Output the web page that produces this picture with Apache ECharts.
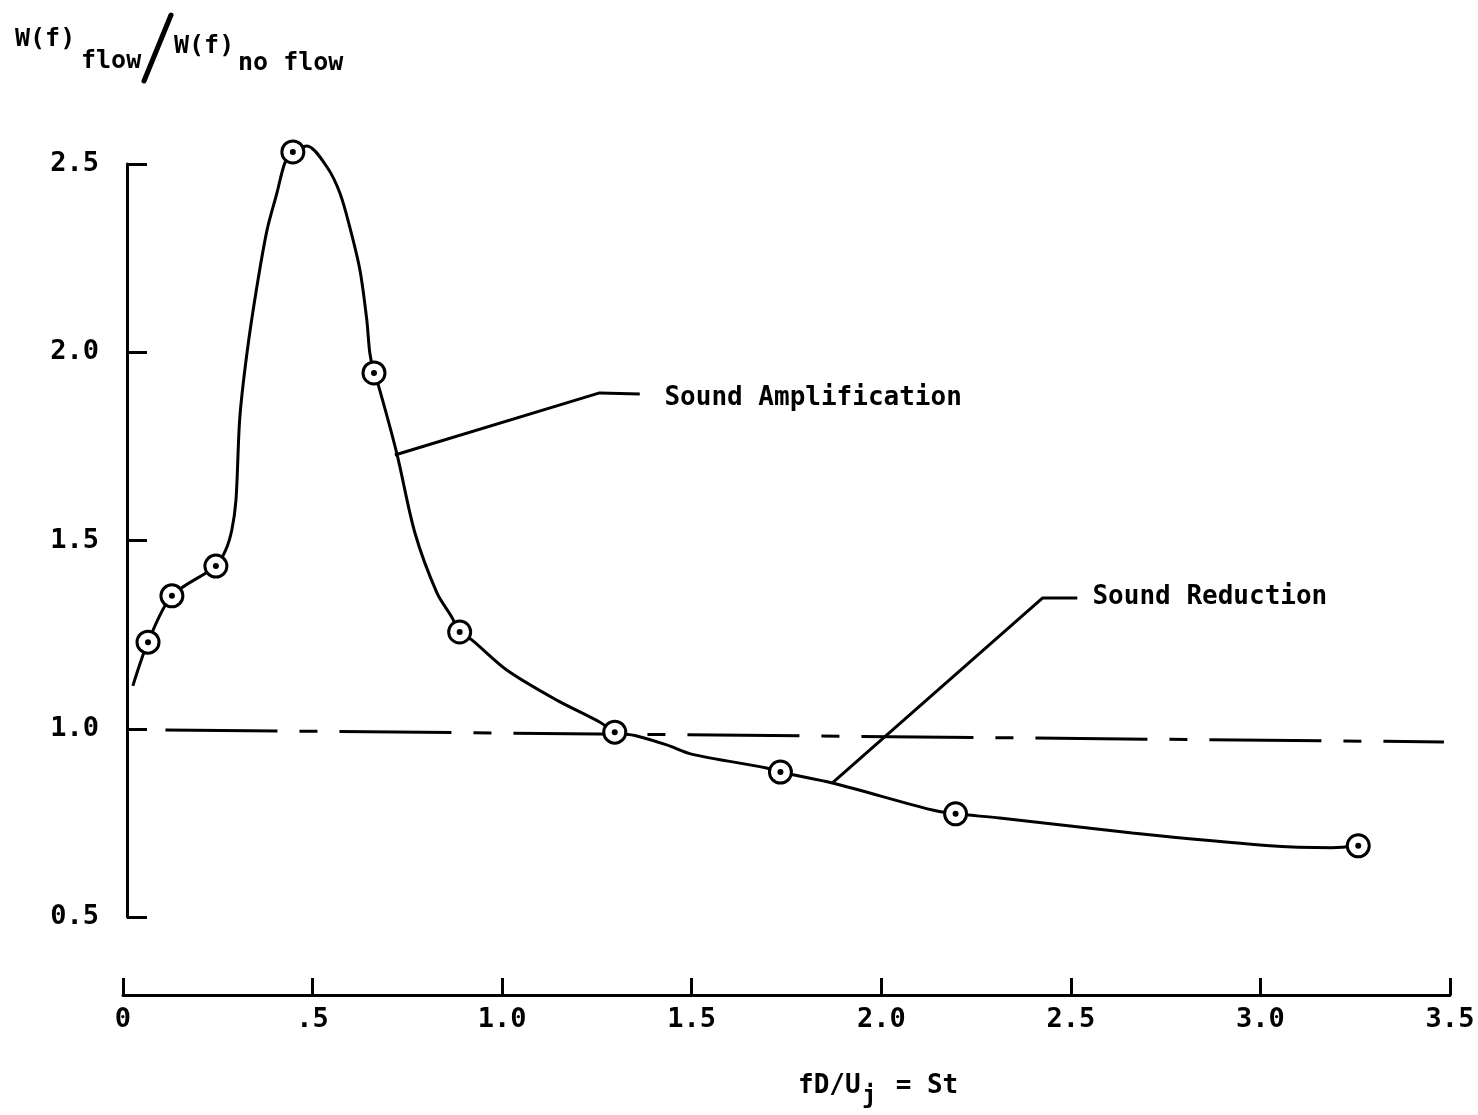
<!DOCTYPE html>
<html>
<head>
<meta charset="utf-8">
<script src="https://cdn.jsdelivr.net/npm/echarts@6/dist/echarts.min.js"></script>
<style>
html,body{margin:0;padding:0;background:#fff;}
#chart{width:1478px;height:1115px;}
</style>
</head>
<body>
<div id="chart"></div>
<script>
// ---- data ----
const xTickLabels = ['0', '.5', '1.0', '1.5', '2.0', '2.5', '3.0', '3.5'];
const yTickLabels = ['0.5', '1.0', '1.5', '2.0', '2.5'];

// measured points (circle-dot markers): [St, W(f)flow/W(f)no flow]
const measuredSt = [0.066, 0.129, 0.245, 0.448, 0.662, 0.888, 1.297, 1.734, 2.196, 3.258];
const measuredRatio = [1.230, 1.353, 1.432, 2.532, 1.945, 1.257, 0.991, 0.885, 0.774, 0.689];

// hand-faired curve traced through the points
const curveSt = [0.026, 0.066, 0.129, 0.245, 0.271, 0.287, 0.298, 0.308, 0.327, 0.353, 0.380, 0.406, 0.427, 0.448, 0.485, 0.538, 0.572, 0.598, 0.625, 0.643, 0.651, 0.662, 0.672, 0.722, 0.770, 0.828, 0.867, 0.888, 0.920, 1.012, 1.144, 1.257, 1.297, 1.350, 1.434, 1.502, 1.697, 1.734, 1.871, 2.135, 2.196, 2.312, 2.662, 3.015, 3.189, 3.258];
const curveRatio = [1.114, 1.230, 1.353, 1.432, 1.475, 1.528, 1.608, 1.825, 1.998, 2.173, 2.325, 2.423, 2.503, 2.532, 2.548, 2.492, 2.423, 2.333, 2.218, 2.086, 1.998, 1.945, 1.918, 1.732, 1.520, 1.361, 1.297, 1.257, 1.236, 1.156, 1.076, 1.018, 0.991, 0.982, 0.957, 0.932, 0.896, 0.885, 0.856, 0.784, 0.774, 0.763, 0.723, 0.690, 0.684, 0.689];

// dashed no-change reference line (ratio = 1)
const refSt = [0.112, 3.484];
const refRatio = [0.997, 0.965];

// annotation leaders (data coordinates)
const ampLeaderSt = [0.717, 1.257, 1.363];
const ampLeaderRatio = [1.727, 1.892, 1.889];
const redLeaderSt = [1.871, 2.425, 2.517];
const redLeaderRatio = [0.856, 1.347, 1.347];
const annotationTexts = ['Sound Amplification', 'Sound Reduction'];
const annotationSt = [1.428, 2.557];
const annotationRatio = [1.878, 1.350];

const zip = (a, b) => a.map((v, i) => [v, b[i]]);

const FONT = '"DejaVu Sans Mono", monospace';
const chart = echarts.init(document.getElementById('chart'));

const option = {
  backgroundColor: '#ffffff',
  animation: false,
  grid: { left: 123, right: 28, top: 164, bottom: 198 },
  xAxis: {
    type: 'value', min: 0, max: 3.5, interval: 0.5,
    offset: 78,
    axisLine: { lineStyle: { color: '#000', width: 3 } },
    axisTick: { inside: true, length: 17, lineStyle: { color: '#000', width: 3 } },
    splitLine: { show: false },
    axisLabel: {
      margin: 11, color: '#000', fontSize: 27, fontWeight: 'bold', fontFamily: FONT,
      formatter: (v) => xTickLabels[Math.round(v / 0.5)]
    }
  },
  yAxis: {
    type: 'value', min: 0.5, max: 2.5, interval: 0.5,
    offset: -4,
    axisLine: { lineStyle: { color: '#000', width: 3 } },
    axisTick: { inside: true, length: 20, lineStyle: { color: '#000', width: 3 } },
    splitLine: { show: false },
    axisLabel: {
      margin: 28, color: '#000', fontSize: 27, fontWeight: 'bold', fontFamily: FONT,
      formatter: (v) => yTickLabels[Math.round((v - 0.5) / 0.5)]
    }
  },
  series: [
    {
      type: 'line', data: zip(refSt, refRatio), showSymbol: false, silent: true, clip: false,
      lineStyle: { color: '#000', width: 3, type: [112, 22, 18, 22] }, z: 1
    },
    {
      type: 'line', data: zip(curveSt, curveRatio), smooth: 0.3,
      showSymbol: false, silent: true, clip: false,
      lineStyle: { color: '#000', width: 3 }, z: 2
    },
    {
      type: 'line', data: zip(ampLeaderSt, ampLeaderRatio), showSymbol: false, silent: true,
      lineStyle: { color: '#000', width: 3 }, z: 2
    },
    {
      type: 'line', data: zip(redLeaderSt, redLeaderRatio), showSymbol: false, silent: true,
      lineStyle: { color: '#000', width: 3 }, z: 2
    },
    {
      type: 'scatter', data: zip(measuredSt, measuredRatio), symbol: 'circle', symbolSize: 22,
      clip: false,
      itemStyle: { color: '#fff', borderColor: '#000', borderWidth: 3, opacity: 1 }, z: 3, silent: true
    },
    {
      type: 'scatter', data: zip(measuredSt, measuredRatio), symbol: 'circle', symbolSize: 6,
      clip: false,
      itemStyle: { color: '#000', opacity: 1 }, z: 4, silent: true
    },
    {
      type: 'scatter', symbolSize: 0, silent: true, z: 5,
      itemStyle: { opacity: 1 },
      data: annotationTexts.map((t, i) => ({ value: [annotationSt[i], annotationRatio[i]], name: t })),
      label: {
        show: true, position: 'right', distance: 0, formatter: (p) => p.name,
        color: '#000', opacity: 1, fontSize: 26, fontWeight: 'bold', fontFamily: FONT
      }
    }
  ],
  graphic: [
    { type: 'text', left: 15, top: 27, style: { text: 'W(f)', font: 'bold 25px ' + FONT, fill: '#000' } },
    { type: 'text', left: 81, top: 49, style: { text: 'flow', font: 'bold 25px ' + FONT, fill: '#000' } },
    { type: 'line', shape: { x1: 144, y1: 81, x2: 171, y2: 15 }, style: { stroke: '#000', lineWidth: 5, lineCap: 'round' } },
    { type: 'text', left: 174, top: 34, style: { text: 'W(f)', font: 'bold 25px ' + FONT, fill: '#000' } },
    { type: 'text', left: 238, top: 51, style: { text: 'no flow', font: 'bold 25px ' + FONT, fill: '#000' } },
    { type: 'text', left: 798, top: 1073, style: { text: 'fD/U', font: 'bold 26px ' + FONT, fill: '#000' } },
    { type: 'text', left: 862, top: 1085, style: { text: 'j', font: 'bold 24px ' + FONT, fill: '#000' } },
    { type: 'text', left: 880, top: 1073, style: { text: ' = St', font: 'bold 26px ' + FONT, fill: '#000' } }
  ]
};
chart.setOption(option);
</script>
</body>
</html>
